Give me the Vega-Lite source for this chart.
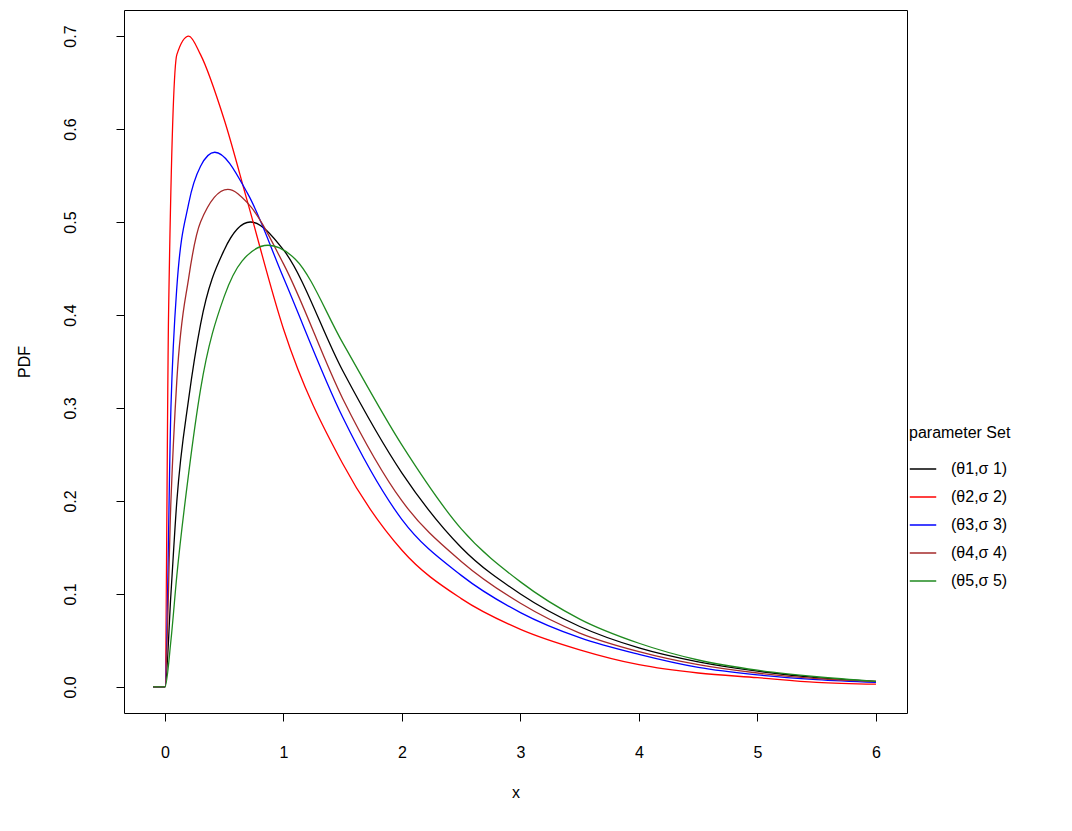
{
  "$schema": "https://vega.github.io/schema/vega-lite/v6.json",
  "width": 783,
  "height": 703,
  "autosize": "none",
  "padding": {"left": 124, "top": 10, "right": 165, "bottom": 118},
  "background": "white",
  "config": {
    "font": "Liberation Sans",
    "view": {"stroke": "black", "strokeWidth": 1}
  },
  "data": {
    "values": [
      {"x": -0.1, "pdf": 0, "set": "(θ1,σ 1)"}, {"x": 0, "pdf": 0, "set": "(θ1,σ 1)"}, {"x": 0.05, "pdf": 0.1, "set": "(θ1,σ 1)"}, {"x": 0.1, "pdf": 0.2, "set": "(θ1,σ 1)"}, {"x": 0.2, "pdf": 0.31, "set": "(θ1,σ 1)"}, {"x": 0.3, "pdf": 0.39, "set": "(θ1,σ 1)"}, {"x": 0.5, "pdf": 0.47, "set": "(θ1,σ 1)"}, {"x": 0.72, "pdf": 0.5, "set": "(θ1,σ 1)"}, {"x": 1, "pdf": 0.47, "set": "(θ1,σ 1)"}, {"x": 1.5, "pdf": 0.34, "set": "(θ1,σ 1)"}, {"x": 2, "pdf": 0.23, "set": "(θ1,σ 1)"}, {"x": 2.5, "pdf": 0.15, "set": "(θ1,σ 1)"}, {"x": 3, "pdf": 0.1, "set": "(θ1,σ 1)"}, {"x": 3.5, "pdf": 0.065, "set": "(θ1,σ 1)"}, {"x": 4, "pdf": 0.042, "set": "(θ1,σ 1)"}, {"x": 4.5, "pdf": 0.027, "set": "(θ1,σ 1)"}, {"x": 5, "pdf": 0.017, "set": "(θ1,σ 1)"}, {"x": 5.5, "pdf": 0.01, "set": "(θ1,σ 1)"}, {"x": 6, "pdf": 0.006, "set": "(θ1,σ 1)"},
      {"x": -0.1, "pdf": 0, "set": "(θ2,σ 2)"}, {"x": 0, "pdf": 0, "set": "(θ2,σ 2)"}, {"x": 0.03, "pdf": 0.4, "set": "(θ2,σ 2)"}, {"x": 0.1, "pdf": 0.68, "set": "(θ2,σ 2)"}, {"x": 0.2, "pdf": 0.7, "set": "(θ2,σ 2)"}, {"x": 0.3, "pdf": 0.68, "set": "(θ2,σ 2)"}, {"x": 0.5, "pdf": 0.61, "set": "(θ2,σ 2)"}, {"x": 0.7, "pdf": 0.52, "set": "(θ2,σ 2)"}, {"x": 1, "pdf": 0.385, "set": "(θ2,σ 2)"}, {"x": 1.5, "pdf": 0.24, "set": "(θ2,σ 2)"}, {"x": 2, "pdf": 0.147, "set": "(θ2,σ 2)"}, {"x": 2.5, "pdf": 0.095, "set": "(θ2,σ 2)"}, {"x": 3, "pdf": 0.062, "set": "(θ2,σ 2)"}, {"x": 3.5, "pdf": 0.04, "set": "(θ2,σ 2)"}, {"x": 4, "pdf": 0.024, "set": "(θ2,σ 2)"}, {"x": 4.5, "pdf": 0.015, "set": "(θ2,σ 2)"}, {"x": 5, "pdf": 0.01, "set": "(θ2,σ 2)"}, {"x": 5.5, "pdf": 0.005, "set": "(θ2,σ 2)"}, {"x": 6, "pdf": 0.003, "set": "(θ2,σ 2)"},
      {"x": -0.1, "pdf": 0, "set": "(θ3,σ 3)"}, {"x": 0, "pdf": 0, "set": "(θ3,σ 3)"}, {"x": 0.05, "pdf": 0.3, "set": "(θ3,σ 3)"}, {"x": 0.1, "pdf": 0.43, "set": "(θ3,σ 3)"}, {"x": 0.2, "pdf": 0.52, "set": "(θ3,σ 3)"}, {"x": 0.3, "pdf": 0.56, "set": "(θ3,σ 3)"}, {"x": 0.42, "pdf": 0.575, "set": "(θ3,σ 3)"}, {"x": 0.7, "pdf": 0.53, "set": "(θ3,σ 3)"}, {"x": 1, "pdf": 0.44, "set": "(θ3,σ 3)"}, {"x": 1.5, "pdf": 0.29, "set": "(θ3,σ 3)"}, {"x": 2, "pdf": 0.18, "set": "(θ3,σ 3)"}, {"x": 2.5, "pdf": 0.12, "set": "(θ3,σ 3)"}, {"x": 3, "pdf": 0.08, "set": "(θ3,σ 3)"}, {"x": 3.5, "pdf": 0.053, "set": "(θ3,σ 3)"}, {"x": 4, "pdf": 0.035, "set": "(θ3,σ 3)"}, {"x": 4.5, "pdf": 0.021, "set": "(θ3,σ 3)"}, {"x": 5, "pdf": 0.013, "set": "(θ3,σ 3)"}, {"x": 5.5, "pdf": 0.008, "set": "(θ3,σ 3)"}, {"x": 6, "pdf": 0.005, "set": "(θ3,σ 3)"},
      {"x": -0.1, "pdf": 0, "set": "(θ4,σ 4)"}, {"x": 0, "pdf": 0, "set": "(θ4,σ 4)"}, {"x": 0.05, "pdf": 0.2, "set": "(θ4,σ 4)"}, {"x": 0.1, "pdf": 0.33, "set": "(θ4,σ 4)"}, {"x": 0.2, "pdf": 0.44, "set": "(θ4,σ 4)"}, {"x": 0.3, "pdf": 0.5, "set": "(θ4,σ 4)"}, {"x": 0.53, "pdf": 0.535, "set": "(θ4,σ 4)"}, {"x": 0.7, "pdf": 0.52, "set": "(θ4,σ 4)"}, {"x": 1, "pdf": 0.455, "set": "(θ4,σ 4)"}, {"x": 1.5, "pdf": 0.31, "set": "(θ4,σ 4)"}, {"x": 2, "pdf": 0.2, "set": "(θ4,σ 4)"}, {"x": 2.5, "pdf": 0.135, "set": "(θ4,σ 4)"}, {"x": 3, "pdf": 0.09, "set": "(θ4,σ 4)"}, {"x": 3.5, "pdf": 0.058, "set": "(θ4,σ 4)"}, {"x": 4, "pdf": 0.038, "set": "(θ4,σ 4)"}, {"x": 4.5, "pdf": 0.024, "set": "(θ4,σ 4)"}, {"x": 5, "pdf": 0.015, "set": "(θ4,σ 4)"}, {"x": 5.5, "pdf": 0.009, "set": "(θ4,σ 4)"}, {"x": 6, "pdf": 0.006, "set": "(θ4,σ 4)"},
      {"x": -0.1, "pdf": 0, "set": "(θ5,σ 5)"}, {"x": 0, "pdf": 0, "set": "(θ5,σ 5)"}, {"x": 0.05, "pdf": 0.05, "set": "(θ5,σ 5)"}, {"x": 0.1, "pdf": 0.12, "set": "(θ5,σ 5)"}, {"x": 0.2, "pdf": 0.23, "set": "(θ5,σ 5)"}, {"x": 0.3, "pdf": 0.32, "set": "(θ5,σ 5)"}, {"x": 0.5, "pdf": 0.42, "set": "(θ5,σ 5)"}, {"x": 0.65, "pdf": 0.458, "set": "(θ5,σ 5)"}, {"x": 0.87, "pdf": 0.475, "set": "(θ5,σ 5)"}, {"x": 1.1, "pdf": 0.46, "set": "(θ5,σ 5)"}, {"x": 1.5, "pdf": 0.37, "set": "(θ5,σ 5)"}, {"x": 2, "pdf": 0.26, "set": "(θ5,σ 5)"}, {"x": 2.5, "pdf": 0.17, "set": "(θ5,σ 5)"}, {"x": 3, "pdf": 0.113, "set": "(θ5,σ 5)"}, {"x": 3.5, "pdf": 0.073, "set": "(θ5,σ 5)"}, {"x": 4, "pdf": 0.047, "set": "(θ5,σ 5)"}, {"x": 4.5, "pdf": 0.029, "set": "(θ5,σ 5)"}, {"x": 5, "pdf": 0.018, "set": "(θ5,σ 5)"}, {"x": 5.5, "pdf": 0.011, "set": "(θ5,σ 5)"}, {"x": 6, "pdf": 0.006, "set": "(θ5,σ 5)"}
    ]
  },
  "mark": {"type": "line", "strokeWidth": 1.3, "clip": true, "interpolate": "monotone"},
  "encoding": {
    "x": {
      "field": "x", "type": "quantitative",
      "scale": {"domain": [-0.346, 6.262], "nice": false, "zero": false},
      "axis": {"values": [0, 1, 2, 3, 4, 5, 6], "grid": false, "domain": false, "tickColor": "black", "tickSize": 8, "labelFontSize": 16, "labelColor": "black", "labelPadding": 23, "title": "x", "titleFontSize": 16, "titleFontWeight": "normal", "titlePadding": 24}
    },
    "y": {
      "field": "pdf", "type": "quantitative",
      "scale": {"domain": [-0.028, 0.728], "nice": false, "zero": false},
      "axis": {"values": [0, 0.1, 0.2, 0.3, 0.4, 0.5, 0.6, 0.7], "format": ".1f", "grid": false, "domain": false, "tickColor": "black", "tickSize": 8, "labelAngle": -90, "labelAlign": "center", "labelBaseline": "bottom", "labelFontSize": 16, "labelColor": "black", "labelPadding": 38, "title": "PDF", "titleFontSize": 16, "titleFontWeight": "normal", "titlePadding": 30}
    },
    "color": {
      "field": "set", "type": "nominal",
      "scale": {"range": ["black", "red", "blue", "#a52a2a", "#1f8a1f"]},
      "legend": {"title": "parameter Set", "orient": "none", "legendX": 785, "legendY": 415, "padding": 0, "titleFontSize": 16, "titleFontWeight": "normal", "titlePadding": 14, "labelFontSize": 16, "labelColor": "black", "labelOffset": 14, "symbolType": "stroke", "symbolSize": 700, "symbolStrokeWidth": 1.5, "rowPadding": 6}
    }
  }
}
